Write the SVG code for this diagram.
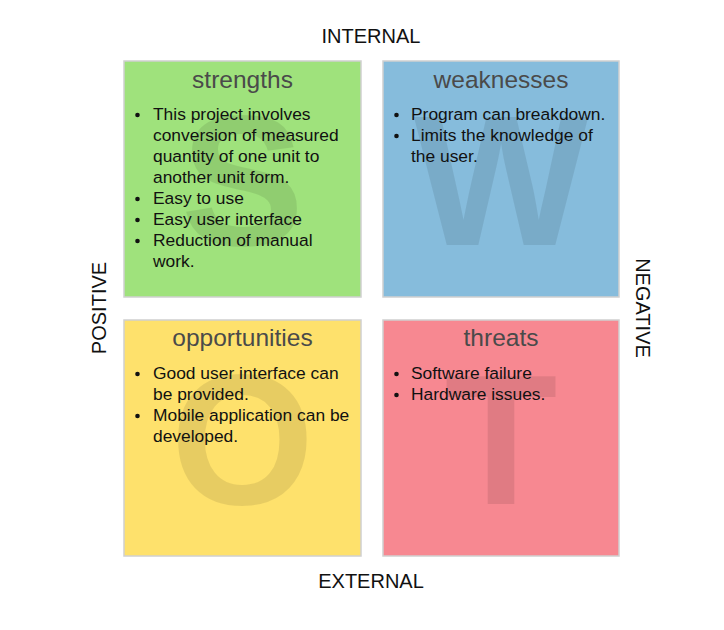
<svg xmlns="http://www.w3.org/2000/svg" width="724" height="630" viewBox="0 0 724 630">
<style>
.box{stroke:#d0d0d0;stroke-width:1.5}
.big{font-family:"Liberation Sans",Arial,sans-serif;font-weight:bold;font-size:185px;fill:#000;fill-opacity:0.09;text-anchor:middle}
.title{font-family:"Liberation Sans",Arial,sans-serif;font-size:24.5px;fill:#4a4a4a;text-anchor:middle}
.txt{font-family:"Liberation Sans",Arial,sans-serif;font-size:17.4px;fill:#111}
.lbl{font-family:"Liberation Sans",Arial,sans-serif;font-size:20px;fill:#111;text-anchor:middle}
.dot{fill:#111}
</style>
<rect width="724" height="630" fill="#fff"/>
<g id="strengths">
<rect class="box" x="124" y="61" width="237" height="236" fill="#9fe27c"/>
<text class="big" x="242.5" y="245">S</text>
<text class="title" x="242.5" y="88">strengths</text>
<circle class="dot" cx="137.5" cy="115" r="2.3"/>
<circle class="dot" cx="137.5" cy="199" r="2.3"/>
<circle class="dot" cx="137.5" cy="220" r="2.3"/>
<circle class="dot" cx="137.5" cy="241" r="2.3"/>
<text class="txt" x="153" y="120">This project involves</text>
<text class="txt" x="153" y="141">conversion of measured</text>
<text class="txt" x="153" y="162">quantity of one unit to</text>
<text class="txt" x="153" y="183">another unit form.</text>
<text class="txt" x="153" y="204">Easy to use</text>
<text class="txt" x="153" y="225">Easy user interface</text>
<text class="txt" x="153" y="246">Reduction of manual</text>
<text class="txt" x="153" y="267">work.</text>
</g>
<g id="weaknesses">
<rect class="box" x="383" y="61" width="236" height="236" fill="#86bcdc"/>
<text class="big" x="501" y="245">W</text>
<text class="title" x="501" y="88">weaknesses</text>
<circle class="dot" cx="396.5" cy="115" r="2.3"/>
<circle class="dot" cx="396.5" cy="136" r="2.3"/>
<text class="txt" x="411" y="120">Program can breakdown.</text>
<text class="txt" x="411" y="141">Limits the knowledge of</text>
<text class="txt" x="411" y="162">the user.</text>
</g>
<g id="opportunities">
<rect class="box" x="124" y="320" width="237" height="236" fill="#fee16c"/>
<text class="big" x="242.5" y="504">O</text>
<text class="title" x="242.5" y="346">opportunities</text>
<circle class="dot" cx="137.5" cy="374" r="2.3"/>
<circle class="dot" cx="137.5" cy="416" r="2.3"/>
<text class="txt" x="153" y="379">Good user interface can</text>
<text class="txt" x="153" y="400">be provided.</text>
<text class="txt" x="153" y="421">Mobile application can be</text>
<text class="txt" x="153" y="442">developed.</text>
</g>
<g id="threats">
<rect class="box" x="383" y="320" width="236" height="236" fill="#f78891"/>
<text class="big" x="501" y="504">T</text>
<text class="title" x="501" y="346">threats</text>
<circle class="dot" cx="396.5" cy="374" r="2.3"/>
<circle class="dot" cx="396.5" cy="395" r="2.3"/>
<text class="txt" x="411" y="379">Software failure</text>
<text class="txt" x="411" y="400">Hardware issues.</text>
</g>
<g id="labels">
<text class="lbl" x="371" y="43">INTERNAL</text>
<text class="lbl" x="371" y="588">EXTERNAL</text>
<text class="lbl" transform="translate(106,308) rotate(-90)">POSITIVE</text>
<text class="lbl" transform="translate(636,308) rotate(90)">NEGATIVE</text>
</g>
<g id="connectors"/>
</svg>
